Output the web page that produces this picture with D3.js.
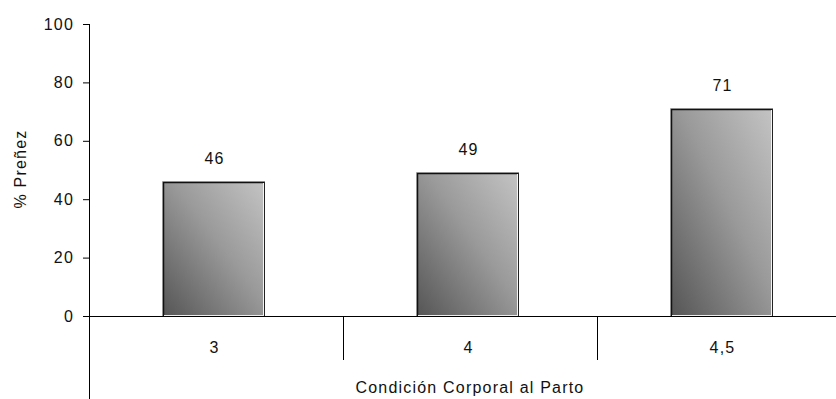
<!DOCTYPE html>
<html>
<head>
<meta charset="utf-8">
<script src="https://cdn.jsdelivr.net/npm/d3@7"></script>
<style>
  html, body { margin: 0; padding: 0; background: #fff; }
  svg { display: block; font-family: "Liberation Sans", Arial, sans-serif; }
</style>
</head>
<body>
<svg id="chart" width="836" height="399"></svg>
<script>
// Pregnancy rate by body condition score at calving
const categories = ["3", "4", "4,5"];
const values = [46, 49, 71];
const yTicks = [0, 20, 40, 60, 80, 100];
const yTitle = "% Preñez";
const xTitle = "Condición Corporal al Parto";

const svg = d3.select("#chart");
const W = 836, H = 399;
const axisX = 89, plotTop = 24, plotBottom = 316;
const bandW = 254;
const textColor = "#111";
const fontSize = 16, spacing = 1.2;

const x = d3.scaleBand()
  .domain(categories)
  .range([axisX, axisX + bandW * categories.length])
  .paddingInner(0.6)
  .paddingOuter(0.3)
  .align(0.486);

const y = d3.scaleLinear().domain([0, 100]).range([plotBottom, plotTop]);

// gradient: dark lower-left to light upper-right
const defs = svg.append("defs");
const grad = defs.append("linearGradient")
  .attr("id", "barGrad")
  .attr("x1", "0%").attr("y1", "100%")
  .attr("x2", "100%").attr("y2", "0%");
grad.append("stop").attr("offset", "0%").attr("stop-color", "#555555");
grad.append("stop").attr("offset", "55%").attr("stop-color", "#9a9a9a");
grad.append("stop").attr("offset", "100%").attr("stop-color", "#c4c4c4");

// y axis
const yAxis = d3.axisLeft(y).tickValues(yTicks).tickSize(6).tickPadding(9);
const gy = svg.append("g").attr("transform", `translate(${axisX},0)`).call(yAxis);
gy.select(".domain").remove();
gy.selectAll(".tick line").attr("stroke", "#000");
gy.selectAll(".tick text")
  .attr("font-size", fontSize)
  .attr("letter-spacing", spacing)
  .attr("fill", textColor)
  .attr("font-family", "Liberation Sans, Arial, sans-serif");
svg.append("line")
  .attr("x1", axisX + 0.5).attr("x2", axisX + 0.5)
  .attr("y1", plotTop).attr("y2", H)
  .attr("stroke", "#000");

// x baseline
svg.append("line")
  .attr("x1", axisX).attr("x2", W)
  .attr("y1", plotBottom + 0.5).attr("y2", plotBottom + 0.5)
  .attr("stroke", "#000");

// category separators
categories.forEach((c, i) => {
  if (i === 0) return;
  const sx = axisX + bandW * i;
  svg.append("line")
    .attr("x1", sx + 0.5).attr("x2", sx + 0.5)
    .attr("y1", plotBottom).attr("y2", 360)
    .attr("stroke", "#000");
});

// bars
const bars = svg.append("g").selectAll("g").data(values).join("g");
bars.each(function (v, i) {
  const g = d3.select(this);
  const bx = Math.round(x(categories[i]));
  const bw = Math.round(x.bandwidth());
  const by = Math.round(y(v));
  const bh = plotBottom - by;
  // soft shadow on top and left
  g.append("rect")
    .attr("x", bx - 1).attr("y", by - 1)
    .attr("width", bw + 1).attr("height", bh + 1)
    .attr("fill", "#bdbdbd");
  g.append("rect")
    .attr("x", bx).attr("y", by)
    .attr("width", bw).attr("height", bh)
    .attr("fill", "url(#barGrad)");
  // dark left and top edges
  g.append("path")
    .attr("d", `M${bx + 0.5},${plotBottom} V${by + 0.5} H${bx + bw}`)
    .attr("fill", "none").attr("stroke", "#111").attr("stroke-width", 1.5);
  // light inner right edge
  g.append("line")
    .attr("x1", bx + bw - 1.5).attr("x2", bx + bw - 1.5)
    .attr("y1", by + 1).attr("y2", plotBottom)
    .attr("stroke", "#f4f4f4");
  // light inner bottom edge
  g.append("line")
    .attr("x1", bx + 1).attr("x2", bx + bw - 1)
    .attr("y1", plotBottom - 0.5).attr("y2", plotBottom - 0.5)
    .attr("stroke", "#eeeeee");
  // dark outer right edge
  g.append("line")
    .attr("x1", bx + bw - 0.5).attr("x2", bx + bw - 0.5)
    .attr("y1", by).attr("y2", plotBottom)
    .attr("stroke", "#222");
  // value label
  g.append("text")
    .attr("x", bx + bw / 2 + spacing / 2)
    .attr("y", by - 18)
    .attr("text-anchor", "middle")
    .attr("font-size", fontSize)
    .attr("letter-spacing", spacing)
    .attr("fill", textColor)
    .text(v);
});

// category labels
svg.append("g").selectAll("text").data(categories).join("text")
  .attr("x", d => x(d) + x.bandwidth() / 2 + spacing / 2)
  .attr("y", 353)
  .attr("text-anchor", "middle")
  .attr("font-size", fontSize)
  .attr("letter-spacing", spacing)
  .attr("fill", textColor)
  .text(d => d);

// axis titles
svg.append("text")
  .attr("x", axisX + bandW * 1.5)
  .attr("y", 393)
  .attr("text-anchor", "middle")
  .attr("font-size", fontSize)
  .attr("letter-spacing", spacing)
  .attr("fill", textColor)
  .text(xTitle);

svg.append("text")
  .attr("transform", `translate(26,169) rotate(-90)`)
  .attr("text-anchor", "middle")
  .attr("font-size", fontSize)
  .attr("letter-spacing", spacing)
  .attr("fill", textColor)
  .text(yTitle);
</script>
</body>
</html>
